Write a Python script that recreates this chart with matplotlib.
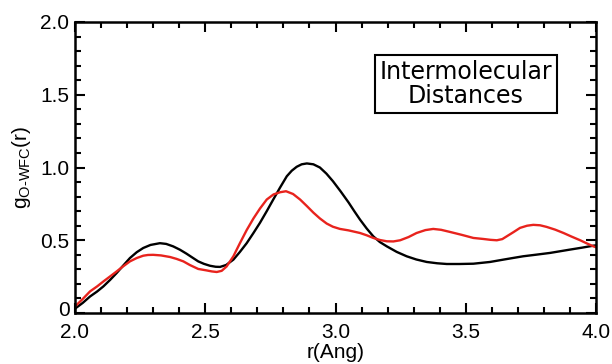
import matplotlib
matplotlib.use("Agg")
import matplotlib.pyplot as plt
import matplotlib.transforms as mtransforms
from matplotlib.ticker import MultipleLocator, FixedLocator

# black curve (r, g)
r_black = [2.000, 2.030, 2.058, 2.085, 2.109, 2.135, 2.160, 2.185, 2.211, 2.237, 2.262, 2.290,
           2.326, 2.350, 2.377, 2.403, 2.428, 2.450, 2.473, 2.495, 2.518, 2.540, 2.557, 2.580,
           2.608, 2.633, 2.659, 2.685, 2.710, 2.736, 2.761, 2.787, 2.813, 2.832, 2.851, 2.870,
           2.890, 2.915, 2.940, 2.965, 2.990, 3.020, 3.050, 3.072, 3.094, 3.120, 3.145, 3.170,
           3.197, 3.235, 3.273, 3.310, 3.350, 3.390, 3.427, 3.475, 3.529, 3.593, 3.644, 3.680,
           3.720, 3.770, 3.823, 3.860, 3.900, 3.945, 3.990, 4.000]
g_black = [0.030, 0.070, 0.114, 0.148, 0.183, 0.228, 0.275, 0.326, 0.378, 0.418, 0.447, 0.468,
           0.480, 0.475, 0.458, 0.435, 0.408, 0.382, 0.355, 0.338, 0.325, 0.318, 0.317, 0.330,
           0.367, 0.420, 0.480, 0.550, 0.620, 0.700, 0.780, 0.862, 0.940, 0.978, 1.005, 1.022,
           1.028, 1.022, 1.000, 0.958, 0.906, 0.835, 0.760, 0.700, 0.642, 0.580, 0.527, 0.488,
           0.458, 0.420, 0.390, 0.368, 0.351, 0.342, 0.337, 0.337, 0.339, 0.351, 0.367, 0.378,
           0.390, 0.401, 0.413, 0.424, 0.436, 0.449, 0.463, 0.465]

# red curve (r, g)
r_red = [2.000, 2.030, 2.058, 2.085, 2.109, 2.135, 2.160, 2.185, 2.211, 2.237, 2.262, 2.280,
         2.300, 2.330, 2.365, 2.390, 2.416, 2.441, 2.473, 2.505, 2.525, 2.544, 2.563, 2.582,
         2.608, 2.633, 2.659, 2.685, 2.710, 2.736, 2.762, 2.787, 2.810, 2.837, 2.864, 2.890,
         2.915, 2.940, 2.966, 2.990, 3.017, 3.050, 3.094, 3.120, 3.145, 3.170, 3.197, 3.222,
         3.248, 3.280, 3.311, 3.345, 3.375, 3.405, 3.440, 3.485, 3.529, 3.567, 3.595, 3.619,
         3.640, 3.657, 3.683, 3.708, 3.735, 3.759, 3.785, 3.810, 3.843, 3.875, 3.905, 3.939,
         3.965, 3.990, 4.000]
g_red = [0.045, 0.097, 0.149, 0.183, 0.217, 0.252, 0.286, 0.321, 0.355, 0.378, 0.394, 0.399,
         0.400, 0.396, 0.385, 0.372, 0.355, 0.330, 0.303, 0.293, 0.286, 0.282, 0.290, 0.320,
         0.390, 0.480, 0.570, 0.650, 0.718, 0.780, 0.815, 0.830, 0.837, 0.818, 0.780, 0.735,
         0.690, 0.650, 0.615, 0.593, 0.578, 0.568, 0.550, 0.534, 0.516, 0.502, 0.493, 0.492,
         0.500, 0.522, 0.550, 0.570, 0.578, 0.572, 0.557, 0.537, 0.516, 0.509, 0.503, 0.500,
         0.508, 0.527, 0.556, 0.585, 0.600, 0.606, 0.603, 0.592, 0.573, 0.550, 0.526, 0.500,
         0.478, 0.458, 0.452]

x_ticks = [2.0, 2.5, 3.0, 3.5, 4.0]
x_labels = ["2.0", "2.5", "3.0", "3.5", "4.0"]
y_ticks = [0.0, 0.5, 1.0, 1.5, 2.0]
y_labels = ["0", "0.5", "1.0", "1.5", "2.0"]

plt.rcParams['font.family'] = ['Liberation Sans', 'DejaVu Sans']

fig = plt.figure(figsize=(6.12, 3.64), dpi=100)
ax = fig.add_axes([0.1225, 0.140, 0.8515, 0.7996])

ax.plot(r_black, g_black, color='black', lw=1.7, solid_capstyle='round', solid_joinstyle='round')
ax.plot(r_red, g_red, color='#e8231d', lw=1.7, solid_capstyle='round', solid_joinstyle='round')

ax.set_xlim(2.0, 4.0)
ax.set_ylim(0.0, 2.0)
ax.xaxis.set_major_locator(FixedLocator(x_ticks))
ax.set_xticklabels(x_labels)
ax.yaxis.set_major_locator(FixedLocator(y_ticks))
ax.set_yticklabels(y_labels)
ax.xaxis.set_minor_locator(MultipleLocator(0.1))
ax.yaxis.set_minor_locator(MultipleLocator(0.1))

ax.tick_params(which='both', direction='in', top=True, right=True, width=1.5, labelsize=15)
ax.tick_params(axis='x', which='major', length=7, pad=7)
ax.tick_params(axis='y', which='major', length=7, pad=4)
ax.tick_params(which='minor', length=4)
for s in ax.spines.values():
    s.set_linewidth(1.8)

# nudge the "0" label up a touch so it clears the "2.0" below it
zero_lbl = ax.get_yticklabels()[0]
zero_lbl.set_transform(zero_lbl.get_transform() +
                       mtransforms.ScaledTranslation(0, 3 / 72, fig.dpi_scale_trans))

ax.set_xlabel('r(Ang)', fontsize=15, labelpad=1)
ax.set_ylabel('g$_\\mathregular{O\u2010WFC}$(r)', fontsize=15, labelpad=5)

ax.text(0.75, 0.787, 'Intermolecular\nDistances', transform=ax.transAxes,
        ha='center', va='center', fontsize=17, family='DejaVu Sans', linespacing=1.0,
        bbox=dict(boxstyle='square,pad=0.2', fc='white', ec='black', lw=1.5))

fig.savefig('out.png', dpi=100)
